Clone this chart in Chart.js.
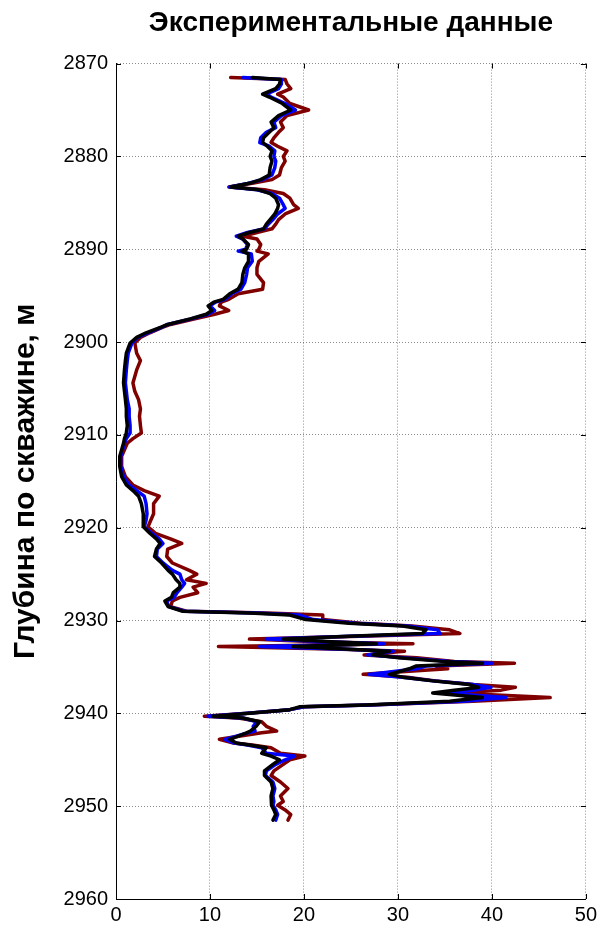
<!DOCTYPE html>
<html>
<head>
<meta charset="utf-8">
<script src="https://cdn.jsdelivr.net/npm/chart.js@4.4.1/dist/chart.umd.min.js"></script>
<style>
  html, body { margin: 0; padding: 0; background: #fff; }
  #wrap { width: 601px; height: 930px; }
</style>
</head>
<body>
<div id="wrap"><canvas id="myChart" width="601" height="930"></canvas></div>
<script>
// depth along the well, m
const depth = [
  2871.5, 2871.7, 2872.2, 2872.7, 2873.3, 2873.6, 2874.3, 2875.0, 2875.6, 2876.3,
  2876.9, 2877.4, 2878.0, 2878.5, 2878.9, 2879.4, 2880.0, 2880.5, 2881.2, 2882.0,
  2882.5, 2882.9, 2883.3, 2883.6, 2884.0, 2884.5, 2885.2, 2885.6, 2886.2, 2886.8,
  2887.3, 2887.8, 2888.2, 2888.6, 2888.9, 2889.5, 2890.0, 2890.2, 2890.5, 2891.3,
  2892.0, 2892.7, 2893.6, 2894.3, 2894.8, 2895.4, 2895.7, 2896.1, 2896.6, 2897.0,
  2897.5, 2898.1, 2898.4, 2899.0, 2899.5, 2900.1, 2901.2, 2902.0, 2903.0, 2904.4,
  2905.3, 2906.2, 2907.2, 2908.0, 2909.0, 2909.8, 2910.4, 2910.9, 2912.3, 2913.4,
  2914.5, 2915.4, 2916.0, 2916.6, 2917.4, 2918.5, 2919.2, 2919.9, 2920.6, 2921.2,
  2921.7, 2922.3, 2923.1, 2923.8, 2924.6, 2925.0, 2925.6, 2926.0, 2926.4, 2927.0,
  2927.5, 2927.9, 2928.5, 2929.0, 2929.2, 2929.4, 2929.9, 2930.3, 2930.6, 2931.0,
  2931.4, 2931.7, 2932.0, 2932.3, 2932.5, 2932.8, 2933.1, 2933.3, 2933.7, 2934.0,
  2934.4, 2934.6, 2934.9, 2935.2, 2935.8, 2936.1, 2936.5, 2936.9, 2937.2, 2937.5,
  2937.8, 2938.3, 2938.7, 2939.1, 2939.3, 2939.6, 2940.0, 2940.3, 2940.5, 2940.9,
  2941.4, 2941.9, 2942.1, 2942.8, 2943.2, 2943.4, 2943.7, 2944.3, 2944.6, 2945.0,
  2945.5, 2946.2, 2946.7, 2947.4, 2948.1, 2948.9, 2949.5, 2949.9, 2950.4, 2950.9,
  2951.5
];

const blackVals = [
  14.5, 17.5, 17.4, 17.0, 15.6, 16.3, 17.7, 18.6, 17.3, 16.5,
  16.8, 16.3, 15.7, 15.6, 16.1, 16.6, 16.4, 16.6, 16.4, 16.3,
  15.4, 14.2, 12.2, 15.2, 16.4, 17.0, 17.3, 17.2, 16.9, 16.4,
  16.0, 15.7, 14.2, 13.0, 13.5, 14.1, 13.9, 13.4, 14.1, 14.1,
  13.7, 13.5, 13.4, 13.0, 12.1, 11.4, 10.4, 9.8, 10.2, 9.6,
  7.9, 5.5, 4.8, 3.2, 2.2, 1.5, 1.1, 1.0, 0.9, 0.8,
  0.9, 1.0, 1.1, 1.1, 1.2, 1.1, 0.9, 0.8, 0.4, 0.4,
  0.6, 1.1, 1.8, 2.4, 2.7, 2.9, 2.9, 2.9, 3.6, 4.3,
  4.7, 4.3, 4.1, 4.85, 5.55, 6.0, 6.4, 6.8, 6.8, 6.1,
  5.9, 5.2, 5.55, 7.1, 14.2, 18.5, 20.2, 24.8, 30.5, 33.0,
  32.6, 24.8, 17.8, 23.4, 27.7, 18.8, 24.8, 29.1, 27.3, 30.1,
  34.7, 39.0, 31.9, 31.2, 29.1, 30.5, 33.7, 37.6, 38.6, 36.0,
  33.7, 39.0, 35.5, 26.6, 19.5, 18.5, 14.2, 10.3, 13.5, 15.3,
  14.9, 14.3, 13.9, 12.1, 12.8, 14.2, 16.0, 15.5, 16.5, 17.4,
  16.7, 15.8, 15.8, 16.5, 16.7, 16.5, 16.6, 16.5, 16.8, 17.0,
  16.7
];

const blueVals = [
  13.5, 17.6, 17.6, 17.3, 16.0, 16.5, 18.0, 19.1, 17.6, 16.8,
  17.0, 16.0, 15.4, 15.3, 16.3, 16.9, 16.8, 17.0, 16.9, 16.6,
  15.6, 14.0, 12.1, 15.0, 16.6, 17.4, 17.8, 18.0, 17.2, 16.7,
  16.2, 15.8, 14.0, 12.8, 13.5, 14.0, 13.8, 13.0, 14.4, 14.5,
  14.0, 13.9, 13.7, 13.3, 12.3, 11.6, 10.6, 10.0, 10.5, 9.8,
  8.0, 5.5, 4.9, 3.4, 2.3, 1.7, 1.3, 1.2, 1.1, 1.0,
  1.1, 1.2, 1.4, 1.4, 1.5, 1.5, 1.1, 0.9, 0.5, 0.5,
  0.8, 1.4, 2.2, 3.0, 3.2, 3.3, 3.2, 3.0, 3.8, 4.6,
  5.0, 4.4, 4.3, 5.0, 6.0, 6.8, 7.0, 7.3, 7.0, 6.5,
  6.2, 5.4, 5.6, 7.3, 15.0, 19.5, 21.0, 25.5, 31.0, 34.2,
  34.5, 25.0, 16.0, 23.0, 28.5, 15.3, 24.5, 29.5, 26.8, 30.5,
  35.5, 40.0, 33.0, 32.0, 26.9, 30.5, 33.8, 38.0, 39.9, 38.0,
  35.0, 41.5, 37.0, 27.0, 20.0, 18.5, 14.0, 9.8, 13.5, 15.0,
  14.6, 14.8, 14.0, 11.6, 12.6, 14.0, 15.5, 16.0, 19.0, 18.0,
  17.0, 16.0, 15.9, 16.7, 16.9, 16.7, 16.8, 16.7, 17.0, 17.2,
  17.0
];

const redVals = [
  12.2, 18.0, 18.2, 18.6, 17.2, 17.8, 18.5, 20.5, 18.2, 17.5,
  17.8, 17.3, 16.8, 16.5, 17.2, 18.2, 17.8, 18.0, 17.6, 17.4,
  16.6, 14.5, 12.0, 15.8, 17.8, 18.5, 18.9, 19.4, 18.0, 17.3,
  17.0, 16.6, 15.0, 13.5, 15.0, 15.4, 15.2, 15.0, 16.2, 15.2,
  15.0, 15.0, 15.7, 15.6, 13.0, 12.0, 11.2, 11.0, 12.0, 10.5,
  8.4, 5.8, 5.0, 3.6, 2.6, 2.0, 2.2, 2.6, 2.2, 1.8,
  2.0, 2.4, 2.6, 2.5, 2.6, 2.7, 1.8, 1.2, 0.6, 0.6,
  1.0, 1.8, 3.0, 4.6, 4.0, 4.0, 3.7, 3.4, 4.2, 5.8,
  7.0, 5.5, 5.4, 6.0, 7.8, 8.6, 7.5, 9.6, 8.2, 8.7,
  6.8, 6.0, 5.8, 7.5, 16.0, 22.0, 22.0, 26.0, 31.5, 35.5,
  36.6, 26.0, 14.2, 22.0, 31.6, 10.9, 24.0, 30.7, 26.4, 32.0,
  36.0, 42.4, 34.0, 35.3, 26.3, 31.0, 34.0, 38.0, 42.5, 41.0,
  36.0, 46.2, 38.0, 27.0, 20.0, 18.5, 14.0, 9.4, 13.0, 15.5,
  16.0, 17.1, 15.5, 11.0, 12.5, 14.5, 16.5, 17.5, 20.1, 18.5,
  17.8, 16.8, 16.5, 17.5, 18.3, 17.5, 17.8, 17.2, 18.0, 18.6,
  18.3
];

const xTicks = [0, 10, 20, 30, 40, 50];
const yTicks = [2870, 2880, 2890, 2900, 2910, 2920, 2930, 2940, 2950, 2960];

const FONT = "'Liberation Sans', Arial, sans-serif";

const toPoints = (vals) => vals.map((v, i) => ({ x: v, y: depth[i] }));

// small inward ticks on all four sides, like the matlab box
const innerTicks = {
  id: "innerTicks",
  afterDraw(chart) {
    const { ctx, chartArea: a, scales } = chart;
    ctx.save();
    ctx.strokeStyle = "#000";
    ctx.lineWidth = 1;
    ctx.beginPath();
    xTicks.forEach(v => {
      const px = Math.round(scales.x.getPixelForValue(v)) + 0.5;
      ctx.moveTo(px, a.bottom); ctx.lineTo(px, a.bottom - 5);
      ctx.moveTo(px, a.top); ctx.lineTo(px, a.top + 5);
    });
    yTicks.forEach(v => {
      const py = Math.round(scales.y.getPixelForValue(v)) + 0.5;
      ctx.moveTo(a.left, py); ctx.lineTo(a.left + 5, py);
      ctx.moveTo(a.right, py); ctx.lineTo(a.right - 5, py);
    });
    ctx.stroke();
    ctx.restore();
  }
};

const lineSet = (label, vals, color) => ({
  label: label,
  data: toPoints(vals),
  borderColor: color,
  backgroundColor: color,
  borderWidth: 3.5,
  pointRadius: 0,
  tension: 0,
  fill: false,
  borderJoinStyle: "round",
  borderCapStyle: "round"
});

const ctx = document.getElementById("myChart").getContext("2d");
const mychart = new Chart(ctx, {
  type: "line",
  data: {
    datasets: [
      lineSet("black", blackVals, "#000000"),
      lineSet("blue", blueVals, "#0000ff"),
      lineSet("red", redVals, "#800000")
    ]
  },
  options: {
    responsive: false,
    animation: false,
    layout: { padding: { left: 0, right: 12, top: 0, bottom: 0 } },
    plugins: {
      legend: { display: false },
      tooltip: { enabled: false },
      title: {
        display: true,
        text: "Экспериментальные данные",
        fullSize: false,
        color: "#000",
        font: { family: FONT, size: 28, weight: "bold" },
        padding: { top: 6, bottom: 24 }
      }
    },
    scales: {
      x: {
        type: "linear",
        min: 0,
        max: 50,
        afterBuildTicks: (s) => { s.ticks = xTicks.map(v => ({ value: v })); },
        afterFit: (s) => { s.height = 31; },
        ticks: {
          color: "#000",
          padding: 4,
          font: { family: FONT, size: 20 },
          maxRotation: 0,
          callback: (v) => String(v)
        },
        grid: { color: "rgba(0,0,0,0.45)", lineWidth: 1, drawTicks: false },
        border: { display: true, color: "#000", width: 1, dash: [1, 2] }
      },
      y: {
        type: "linear",
        reverse: true,
        min: 2870,
        max: 2960,
        afterBuildTicks: (s) => { s.ticks = yTicks.map(v => ({ value: v })); },
        afterFit: (s) => { s.width = 116; },
        ticks: {
          color: "#000",
          padding: 8,
          font: { family: FONT, size: 20 },
          callback: (v) => String(v)
        },
        grid: { color: "rgba(0,0,0,0.45)", lineWidth: 1, drawTicks: false },
        border: { display: true, color: "#000", width: 1, dash: [1, 2] },
        title: {
          display: true,
          text: "Глубина по скважине, м",
          color: "#000",
          font: { family: FONT, size: 30, weight: "bold" },
          padding: { top: 8, bottom: 0 }
        }
      }
    }
  },
  plugins: [innerTicks]
});
</script>
</body>
</html>
